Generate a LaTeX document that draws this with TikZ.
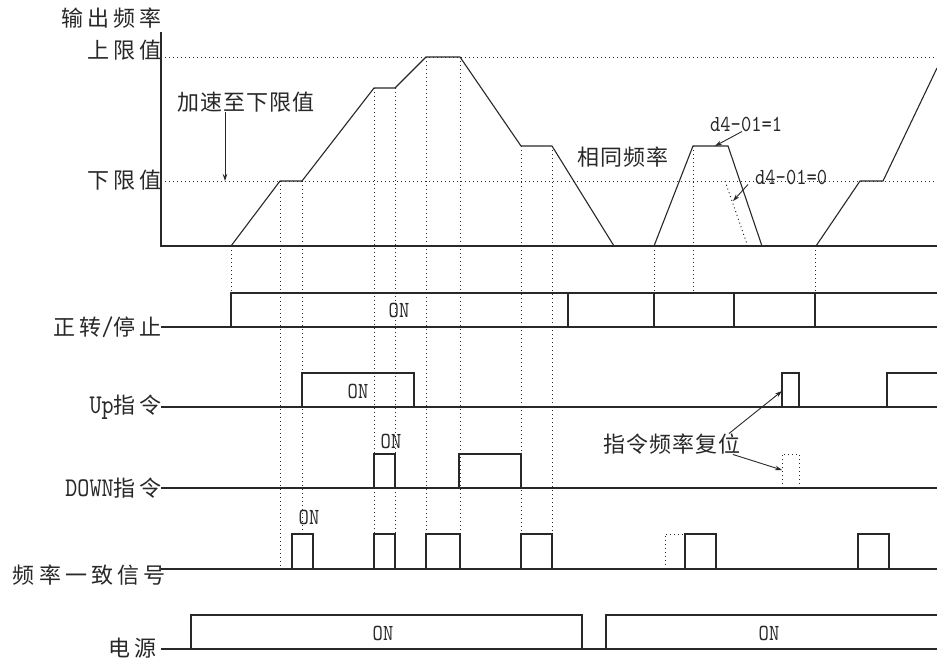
\documentclass[tikz,border=0pt]{standalone}
\usepackage{fontspec}
\newfontfamily\cjk[LetterSpace=19]{Noto Sans CJK SC}
\newfontfamily\cjknote[LetterSpace=5]{Noto Sans CJK SC}
\newfontfamily\mono[FakeStretch=0.85]{lmmono10-regular.otf}
\newcommand\latpart[1]{{\mono\fontsize{27}{27}\selectfont #1}}
\usetikzlibrary{arrows.meta,positioning}
\definecolor{ink}{RGB}{40,40,40}
\tikzset{
  >={Stealth[length=7pt,width=4.5pt]},
  sig/.style={draw=ink,line width=1.1pt},
  guide/.style={draw=ink,line width=1pt,dash pattern=on 1pt off 3pt},
  lbl/.style={font=\cjk\fontsize{22}{22}\selectfont,text=ink,inner sep=0pt,anchor=east},
  note/.style={font=\cjknote\fontsize{22}{22}\selectfont,text=ink,inner sep=0pt,anchor=west},
  on/.style={font=\mono\fontsize{23}{23}\selectfont,text=ink,inner sep=0pt},
  pointer/.style={->,draw=ink,line width=0.9pt},
}
\begin{document}
\begin{tikzpicture}[x=1pt,y=-1pt]
  \useasboundingbox[fill=white] (0,0) rectangle (937,662);
  % frequency plot
  \node[lbl,anchor=west] (yaxis) at (61,18) {输出频率};
  \node[lbl] (upper) at (162,50) {上限值};
  \node[lbl] (lower) at (162,180) {下限值};
  \draw[guide] (161,57) -- (937,57);
  \draw[guide] (161,181) -- (937,181);
  \foreach \x/\a/\b in {231/246/293,280/181/569,302/181/534,374/88/534,395/88/534,
      426/57/534,460/57/534,521/146/534,552/146/534,654/246/293,693/146/293,815/246/293}
    \draw[guide] (\x,\a) -- (\x,\b);
  \draw[sig] (161,32) -- (161,246) -- (937,246);
  \draw[sig] (231,246) -- (280,181) -- (302,181) -- (374,88) -- (395,88) -- (426,57)
    -- (460,57) -- (521,146) -- (552,146) -- (614,246);
  \draw[sig] (654,246) -- (693,146) -- (728,146) -- (762,246);
  \draw[sig] (816,246) -- (860,181) -- (883,181) -- (937,68);
  \draw[guide] (725,181) -- (747,244);
  \node[note] (accel) at (177,102) {加速至下限值};
  \coordinate (accTip) at (225,181);
  \draw[pointer] (accel.south -| accTip) -- (accTip);
  \node[note] (same) at (577,157) {相同频率};
  \node[on,anchor=west] (d41) at (710,124) {d4-01=1};
  \coordinate (flatTip) at (715,146);
  \draw[pointer] ([xshift=32pt]d41.south west) -- (flatTip);
  \node[on,anchor=west] (d40) at (755,177) {d4-01=0};
  \coordinate (slopeTip) at (733,201);
  \draw[pointer] ([xshift=-7pt]d40.south west) -- (slopeTip);
  % signal rows
  \node[lbl] (run) at (162,327) {正转\latpart{/}停止};
  \draw[sig] (161,327) -- (937,327);
  \draw[sig] (231,327) |- (937,293);
  \foreach \x in {568,654,734,815} \draw[sig] (\x,293) -- (\x,327);
  \node[on] (runon) at (399,310) {ON};
  \node[lbl] (up) at (162,407) {\latpart{Up}指令};
  \draw[sig] (161,407) -- (937,407);
  \draw[sig] (302,407) rectangle (414,373);
  \draw[sig] (782,407) rectangle (799,373);
  \draw[sig] (887,407) |- (937,373);
  \node[on] (upon) at (358,391) {ON};
  \node[lbl] (down) at (162,488) {\latpart{DOWN}指令};
  \draw[sig] (161,488) -- (937,488);
  \draw[sig] (374,488) rectangle (395,454);
  \draw[sig] (459,488) rectangle (521,454);
  \draw[guide] (782,488) rectangle (799,454);
  \node[on] (downon) at (391,441) {ON};
  \node[note] (reset) at (603,444) {指令频率复位};
  \coordinate (upTip) at (782,391);
  \coordinate (downTip) at (782,470);
  \draw[pointer] ([xshift=-12pt]reset.north east) -- (upTip);
  \draw[pointer] ([xshift=-8pt]reset.south east) -- (downTip);
  \node[lbl] (agree) at (166,575) {频率一致信号};
  \draw[sig] (161,569) -- (937,569);
  \foreach \a/\b in {292/313,374/395,426/460,521/552,685/716,858/889}
    \draw[sig] (\a,569) rectangle (\b,534);
  \draw[guide] (665,569) rectangle (685,534);
  \node[on] (agreeon) at (309,517) {ON};
  \node[lbl] (power) at (157,648) {电源};
  \draw[sig] (161,649) -- (937,649);
  \draw[sig] (191,649) rectangle (582,615);
  \draw[sig] (606,649) |- (937,615);
  \node[on] (poweron) at (383,633) {ON};
  \node[on] (poweron2) at (769,633) {ON};
\end{tikzpicture}
\end{document}
